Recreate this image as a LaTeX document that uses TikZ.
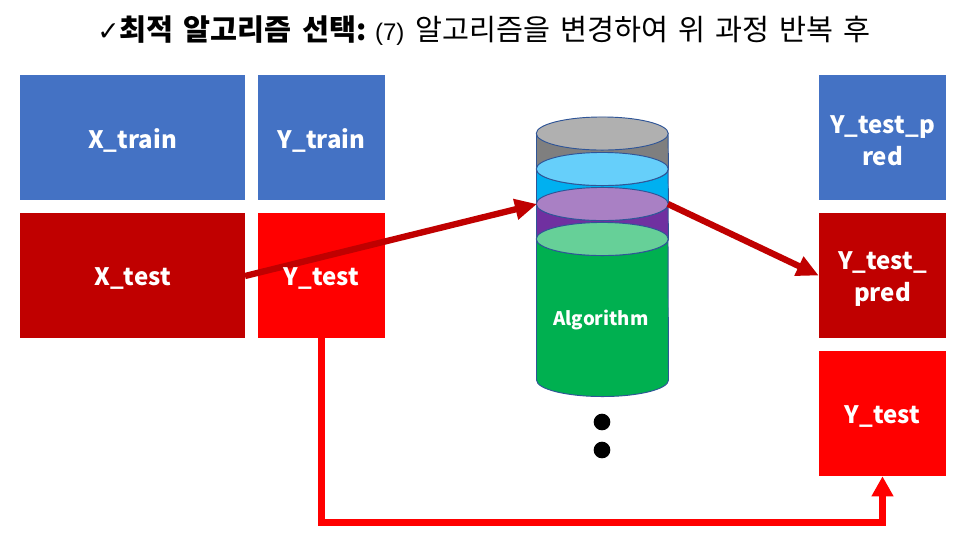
\documentclass[tikz,border=0pt]{standalone}
\usepackage{fontspec}
\setmainfont{Noto Sans CJK KR}
\newfontfamily\arialf{Liberation Sans}
\newfontfamily\symf{DejaVu Sans}
\usetikzlibrary{arrows.meta}
\definecolor{cblue}{HTML}{4472C4}
\definecolor{cdark}{HTML}{C00000}
\definecolor{cred}{HTML}{FF0000}
\definecolor{cedge}{HTML}{2F5597}
\definecolor{cgray}{HTML}{7F7F7F}
\definecolor{cgrayl}{HTML}{B0B0B0}
\definecolor{ccyan}{HTML}{00B0F0}
\definecolor{ccyanl}{HTML}{66CFFA}
\definecolor{cpurple}{HTML}{7030A0}
\definecolor{cpurplel}{HTML}{A980C4}
\definecolor{cgreen}{HTML}{00B050}
\definecolor{cgreenl}{HTML}{66D098}
\newcommand{\lbl}[1]{\raisebox{0pt}[\dimexpr\height+5.2pt\relax][\depth]{#1}}
\newcommand{\wgap}{\hspace{0.12em}}
\tikzset{
 x=0.75pt,y=-0.75pt,
 boxtext/.style={inner sep=0pt,align=center,text=white,font=\fontsize{18}{24}\selectfont\bfseries},
 databox/.style={boxtext,minimum width=#1*0.75pt,minimum height=93.75pt,draw=none},
 barrel/.style={draw=cedge,line width=0.7pt,fill=#1},
 lid/.style={draw=cedge,line width=0.7pt,fill=#1},
 heavy/.style={line width=4.75pt,color=cdark,-{Triangle[length=16.5pt,width=15pt]}},
 redline/.style={line width=4.75pt,color=cred,-{Triangle[length=15pt,width=15.5pt]}},
 dotmark/.style={circle,fill=black,minimum size=12.5pt,inner sep=0pt},
}
\begin{document}
\begin{tikzpicture}
\useasboundingbox (0,0) rectangle (968,537);
\fill[white] (0,0) rectangle (968,537);
\node[font=\fontsize{22}{22}\selectfont,inner sep=0pt] (title) at (484,31) {{\symf\fontsize{20}{20}\selectfont ✓}\textbf{최적\wgap{} 알고리즘\wgap{} 선택:} {\arialf\fontsize{18}{18}\selectfont (7)}\hspace{0.15em} 알고리즘을\wgap{} 변경하여\wgap{} 위\wgap{} 과정\wgap{} 반복\wgap{} 후};
\node[databox=225,fill=cblue] (xtrain) at (132.5,137.5) {\lbl{X\_train}};
\node[databox=127,fill=cblue] (ytrain) at (321.5,137.5) {\lbl{Y\_train}};
\node[databox=225,fill=cdark] (xtest) at (132.5,275.5) {\lbl{X\_test}};
\node[databox=127,fill=cred] (ytest) at (321.5,275.5) {};
\node[databox=127,fill=cblue] (pa) at (882.5,137.5) {\lbl{Y\_test\_p}\\\lbl{red}};
\node[databox=127,fill=cdark] (pb) at (882.5,275.5) {\lbl{Y\_test\_}\\\lbl{pred}};
\node[databox=127,fill=cred] (pc) at (882.5,413.5) {\lbl{Y\_test}};
% cylinder, bottom band upward
\path[barrel=cgreen] (536.5,239) -- (536.5,380) arc[start angle=180,end angle=360,x radius=49.5pt,y radius=12.4pt] -- (668,239) -- cycle;
\path[barrel=cpurple] (536.5,204) -- (536.5,239) arc[start angle=180,end angle=360,x radius=49.5pt,y radius=12.4pt] -- (668,204) -- cycle;
\path[barrel=ccyan] (536.5,169) -- (536.5,204) arc[start angle=180,end angle=360,x radius=49.5pt,y radius=12.4pt] -- (668,169) -- cycle;
\path[barrel=cgray] (536.5,133.5) -- (536.5,169) arc[start angle=180,end angle=360,x radius=49.5pt,y radius=12.4pt] -- (668,133.5) -- cycle;
\draw[lid=cgrayl] (602.25,133.5) ellipse[x radius=49.5pt,y radius=12.4pt];
\draw[lid=ccyanl] (602.25,169) ellipse[x radius=49.5pt,y radius=12.4pt];
\draw[lid=cpurplel] (602.25,204) ellipse[x radius=49.5pt,y radius=12.4pt];
\draw[lid=cgreenl] (602.25,239) ellipse[x radius=49.5pt,y radius=12.4pt];
\node[inner sep=0pt,text=white,font=\fontsize{14}{14}\selectfont\bfseries] (alg) at (601,320) {Algorithm};
\coordinate (cin) at (537,204);
\coordinate (cout) at (668,204);
\coordinate (xstart) at (245,276);
\coordinate (bend) at (600,522.5);
\draw[heavy] (xstart) -- (cin);
\draw[heavy] (cout) -- (pb.west);
\draw[redline] (ytest.south) |- (bend) -| (pc.south);
\node[boxtext] (ytestlabel) at (321.5,275.5) {\lbl{Y\_test}};
\node[dotmark] (d1) at (602,422) {};
\node[dotmark] (d2) at (602,450) {};
\end{tikzpicture}
\end{document}
